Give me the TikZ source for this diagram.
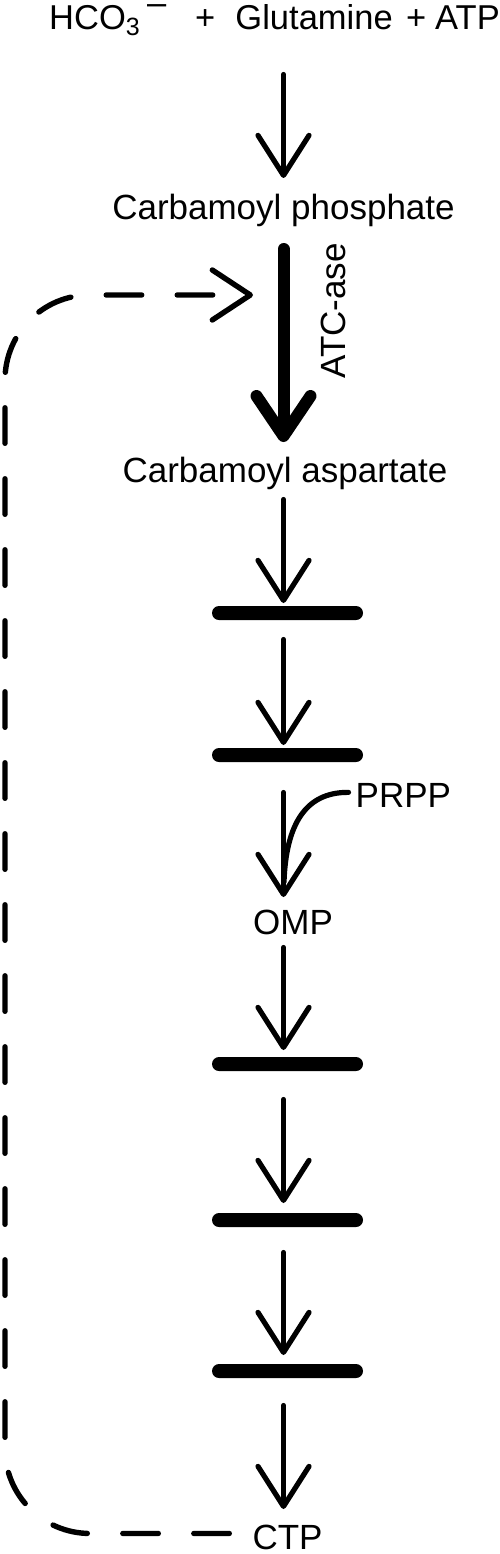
\documentclass[tikz,border=0pt]{standalone}
\usepackage{fontspec}
\setmainfont{Liberation Sans}
\usetikzlibrary{arrows.meta}
\begin{document}
\begin{tikzpicture}[x=1pt,y=-1pt,
  txt/.style={inner sep=0pt, anchor=base, font=\fontsize{35}{42}\selectfont},
  barn/.style={fill=black, rectangle, rounded corners=7pt, minimum width=151pt, minimum height=14pt, inner sep=0pt},
  tarr/.style={line width=5.2pt, line cap=round, -{Straight Barb[length=40pt,width=51pt,round]}},
  thickarr/.style={line width=12pt, line cap=round, -{Straight Barb[length=40pt,width=54pt,round]}},
  fb/.style={line width=5.4pt, line cap=round, dash pattern=on 35.5pt off 35.5pt, -{Straight Barb[length=38pt,width=50pt,round]}},
  tline/.style={line width=5.2pt, line cap=round}]
\useasboundingbox (0,0) rectangle (500,1554);
\coordinate (ax) at (283.5,0);
\coordinate (lx) at (5,0);
\coordinate (fbtip) at (253,295);
\coordinate (pj) at (284,882);
% texts
\node[txt, anchor=base west, font=\fontsize{34.5}{42}\selectfont] (title) at (49,30)
  {HCO\raisebox{-6pt}{\fontsize{25}{30}\selectfont 3}\hspace{7.4pt}\raisebox{15.4pt}{–}\hspace{28.8pt}+\hspace{20.2pt}Glutamine\hspace{13.5pt}+\hspace{8.9pt}ATP};
\node[txt] (cp) at (283.5,220) {Carbamoyl phosphate};
\node[txt] (ca) at (285,482) {Carbamoyl aspartate};
\node[txt, rotate=90] (atc) at (345,311) {ATC-ase};
\node[txt, anchor=base west] (prpp) at (355.5,807) {PRPP};
\node[txt] (omp) at (293,934) {OMP};
\node[txt] (ctp) at (287.5,1549.5) {CTP};
% bars
\node[barn] (b1) at (287.5,613) {};
\node[barn] (b2) at (287.5,755) {};
\node[barn] (b3) at (287.5,1064) {};
\node[barn] (b4) at (287.5,1220) {};
\node[barn] (b5) at (287.5,1371) {};
% arrows
\draw[tarr, shorten <=44.5pt, shorten >=42pt] (title.base -| ax) -- (cp.base -| ax);
\draw[thickarr, shorten <=29pt, shorten >=40pt] (cp.base -| ax) -- (ca.base -| ax);
\draw[tarr, shorten <=17.5pt, shorten >=10pt] (ca.base -| ax) -- (b1 -| ax);
\draw[tarr, shorten <=26.5pt, shorten >=10pt] (b1 -| ax) -- (b2 -| ax);
\draw[tarr, shorten <=37.5pt, shorten >=37pt] (b2 -| ax) -- (omp.base -| ax);
\draw[tarr, shorten <=13.5pt, shorten >=14pt] (omp.base -| ax) -- (b3 -| ax);
\draw[tarr, shorten <=35.5pt, shorten >=17pt] (b3 -| ax) -- (b4 -| ax);
\draw[tarr, shorten <=32.5pt, shorten >=16pt] (b4 -| ax) -- (b5 -| ax);
\draw[tarr, shorten <=34.5pt, shorten >=40.5pt] (b5 -| ax) -- (ctp.base -| ax);
% PRPP entry
\draw[tline] (prpp.west) ++(-7,-2.6) .. controls (305,792) and (286,825) .. (pj);
% feedback
\draw[fb, rounded corners=85pt] (ctp.west) ++(-23,-4) coordinate (fbs) -- (fbs -| lx) -- (lx |- fbtip) -- (fbtip);
\end{tikzpicture}
\end{document}
